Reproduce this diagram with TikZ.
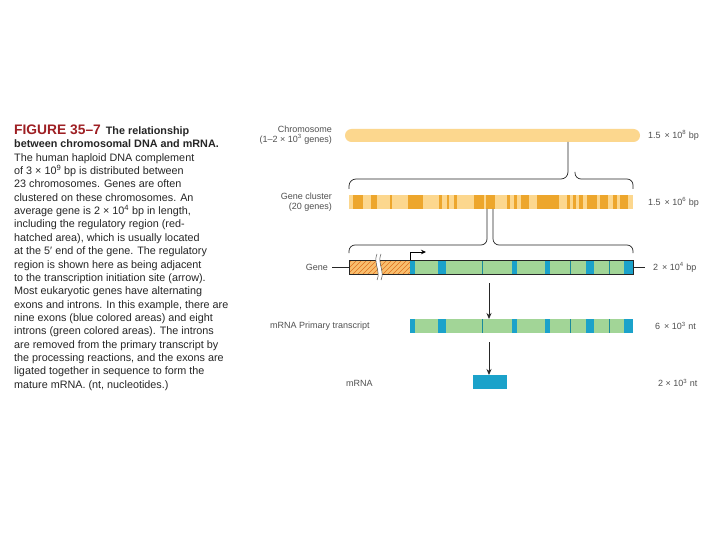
\documentclass[tikz,border=0pt]{standalone}
\usepackage{fontspec}
\setmainfont{Liberation Sans}
\usetikzlibrary{arrows.meta}
\definecolor{figred}{HTML}{9E1F23}
\definecolor{chromY}{HTML}{FCD78E}
\definecolor{clustD}{HTML}{EDA62C}
\definecolor{intronG}{HTML}{A2D597}
\definecolor{exonB}{HTML}{1BA2CA}
\definecolor{exonD}{HTML}{1B8A9C}
\definecolor{hatchbg}{HTML}{F8BF6E}
\definecolor{hatchln}{HTML}{E0701E}
\definecolor{lblgray}{HTML}{505050}
\tikzset{
  captxt/.style={anchor=base west, inner sep=0pt, font=\fontsize{10.8}{13}\selectfont, text=black!85},
  lbl/.style={inner sep=0pt, font=\fontsize{9}{10}\selectfont, text=lblgray, align=right},
  conn/.style={draw=black!85, line width=0.7pt},
  arr/.style={draw=black!85, line width=0.8pt, -{Stealth[length=6pt,width=5pt]}},
  barnode/.style={inner sep=0pt, outer sep=0pt, draw=none}
}
\begin{document}
\begin{tikzpicture}[x=1pt,y=-1pt]
\useasboundingbox[fill=white] (0,0) rectangle (720,540);

% ---------------- caption ----------------
\node[captxt] (cap1) at (14,134.5) {{\fontsize{13.8}{14}\selectfont\bfseries\color{figred}FIGURE 35–7}\hspace{5pt}\textbf{The relationship}};
\foreach \t [count=\i from 2] in {
  {\textbf{between chromosomal DNA and mRNA.}},
  {The human haploid DNA complement},
  {of 3 × 10\textsuperscript{9} bp is distributed between},
  {23 chromosomes. Genes are often},
  {clustered on these chromosomes. An},
  {average gene is 2 × 10\textsuperscript{4} bp in length,},
  {including the regulatory region (red-},
  {hatched area), which is usually located},
  {at the 5′ end of the gene. The regulatory},
  {region is shown here as being adjacent},
  {to the transcription initiation site (arrow).},
  {Most eukaryotic genes have alternating},
  {exons and introns. In this example, there are},
  {nine exons (blue colored areas) and eight},
  {introns (green colored areas). The introns},
  {are removed from the primary transcript by},
  {the processing reactions, and the exons are},
  {ligated together in sequence to form the},
  {mature mRNA. (nt, nucleotides.)}}
  {\node[captxt] (cap\i) at (14,{134.5+13.35*(\i-1)}) {\t};}

% ---------------- chromosome ----------------
\node[barnode, fill=chromY, rounded corners=6.5pt, minimum width=295pt, minimum height=13pt] (chrom) at (492.5,135.5) {};
\node[lbl, anchor=east] (chromL) at (332,135) {Chromosome\\(1–2 × 10\textsuperscript{3} genes)};
\node[lbl, anchor=west] (chromR) at (648,135) {1.5 \,× 10\textsuperscript{8} bp};

% ---------------- gene cluster ----------------
\node[barnode, fill=chromY, minimum width=284pt, minimum height=14pt] (clust) at (491,202) {};
\foreach \a/\b in {353/363,371/377,390/392,408/423,439/442,447/449,454/457,474/484,486/495,507/510,514/517,521/529,537/559,567/570,573/576,579/583,587/597,600/608,613/617,620/628}
  {\fill[clustD] (\a,195) rectangle (\b,209);}
\node[lbl, anchor=east] (clustL) at (332,202) {Gene cluster\\(20 genes)};
\node[lbl, anchor=west] (clustR) at (648,202) {1.5 \,× 10\textsuperscript{6} bp};

% brace chromosome -> cluster
\coordinate (v1) at (568,0);
\draw[conn, rounded corners=7pt] (chrom.south -| v1) -- (568,179) -- (349,179) -- (349,189);
\draw[conn, rounded corners=6pt] (575,172) -- (575,179) -- (633,179) -- (633,189);

% ---------------- gene ----------------
\node[barnode, fill=intronG, minimum width=284pt, minimum height=14pt] (gene) at (491,267) {};
\begin{scope}
  \clip (349,260) rectangle (410,274);
  \fill[hatchbg] (349,260) rectangle (410,274);
  \foreach \k in {0,...,18}
    {\draw[hatchln, line width=0.6pt] ({336+5*\k},276) -- ({354+5*\k},258);}
\end{scope}
\foreach \a/\b in {410/415,438/446,512/517,545/550,586/594,624/633}
  {\fill[exonB] (\a,260) rectangle (\b,274);}
\foreach \a in {482.5,570.5,609.5}
  {\draw[exonD, line width=1.4pt] (\a,260) -- (\a,274);}
\draw[black!85, line width=0.8pt] (349,260) rectangle (633,274);
% break mark
\fill[white] (377,254) .. controls (373,262) and (381,272) .. (377,280) -- (381,280) .. controls (385,272) and (377,262) .. (381,254) -- cycle;
\draw[lblgray, line width=0.5pt] (377,254) .. controls (373,262) and (381,272) .. (377,280);
\draw[lblgray, line width=0.5pt] (381,254) .. controls (377,262) and (385,272) .. (381,280);
% transcription start arrow
\coordinate (tss) at (410,260);
\draw[draw=black, line width=0.8pt, -{Stealth[length=5pt,width=4.5pt]}] (tss) -- (410,252) -- (426,252);

\node[lbl, anchor=east] (geneL) at (328,267) {Gene};
\node[lbl, anchor=west] (geneR) at (653,267) {2 \,× 10\textsuperscript{4} bp};
\draw[conn] (geneL.east) ++(4,0) coordinate (gl) -- (gene.west);
\draw[conn] (gene.east) -- ++(12,0) coordinate (gr);

% brace cluster -> gene
\draw[conn, rounded corners=6pt] (487,209) -- (487,245) -- (349,245) -- (349,253);
\draw[conn, rounded corners=6pt] (493,209) -- (493,245) -- (633,245) -- (633,253);

% ---------------- primary transcript ----------------
\node[barnode, fill=intronG, minimum width=223pt, minimum height=14pt] (prim) at (521.5,326) {};
\foreach \a/\b in {410/415,438/446,512/517,545/550,586/594,624/633}
  {\fill[exonB] (\a,319) rectangle (\b,333);}
\foreach \a in {482.5,570.5,609.5}
  {\draw[exonD, line width=1.4pt] (\a,319) -- (\a,333);}
\node[lbl, anchor=west] (primL) at (270,326) {mRNA Primary transcript};
\node[lbl, anchor=west] (primR) at (655,326) {6 \,× 10\textsuperscript{3} nt};

% ---------------- mRNA ----------------
\node[barnode, fill=exonB, minimum width=34pt, minimum height=14pt] (mrna) at (490,382) {};
\node[lbl, anchor=west] (mrnaL) at (346,383) {mRNA};
\node[lbl, anchor=west] (mrnaR) at (658,383) {2 × 10\textsuperscript{3} nt};

% arrows
\coordinate (va) at (489,0);
\draw[arr] ([yshift=-9pt]gene.south -| va) -- (prim.north -| va);
\draw[arr] ([yshift=-9pt]prim.south -| va) -- (mrna.north -| va);
\end{tikzpicture}
\end{document}
